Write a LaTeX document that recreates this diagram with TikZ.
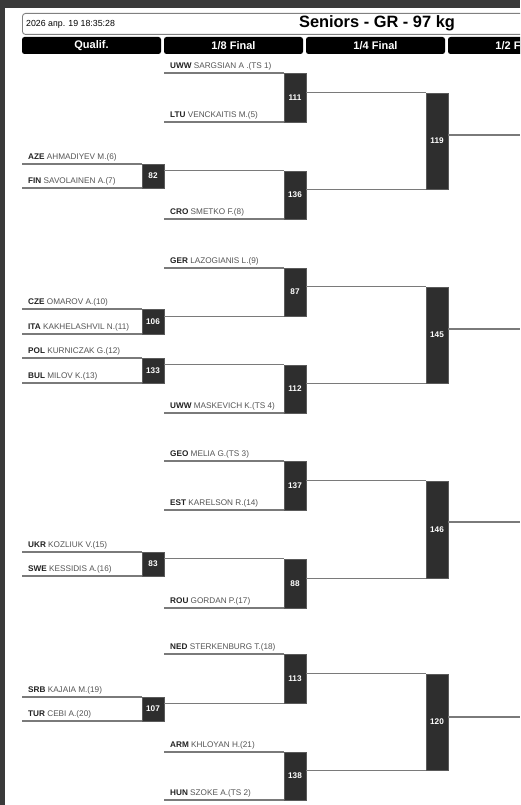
\documentclass[tikz,border=0pt]{standalone}
\usepackage{fontspec}
\setmainfont{Liberation Sans}
\definecolor{lngray}{HTML}{7A7A7A}
\definecolor{boxgray}{HTML}{2E2E2E}
\definecolor{boxedge}{HTML}{5A5A5A}
\definecolor{namegray}{HTML}{555555}
\definecolor{codecol}{HTML}{222222}
\definecolor{framegray}{HTML}{3A3A3A}
\newcommand\matchbox[5]{\node[mbox, minimum height={(#4)-(#3)}] (#1) at (#2,{((#3)+(#4))/2}) {#5};}
\newcommand\comp[6]{%
  \coordinate (#1) at (#2,#3);
  \draw[ln] (#1) -- (#1 -| #4.west);
  \node[lbl] (#1t) at ([shift={(6,-4.5)}]#1) {\textbf{\color{codecol}#5} #6};}
\begin{document}
\begin{tikzpicture}[x=1pt,y=-1pt,
  ln/.style={draw=lngray, line width=1.4pt},
  mbox/.style={fill=boxgray, draw=boxedge, line width=0.6pt, minimum width=22pt, inner sep=0pt,
    text=white, font=\fontsize{8.2}{9}\selectfont\bfseries},
  lbl/.style={anchor=base west, inner sep=0pt, text=namegray, font=\fontsize{8.2}{9}\selectfont},
  colhead/.style={fill=black, rounded corners=2.5pt, minimum width=139pt, minimum height=17pt,
    inner sep=0pt, text=white, font=\fontsize{11}{12}\selectfont\bfseries}]
\useasboundingbox (0,0) rectangle (520,805);
\clip (0,0) rectangle (520,805);
\fill[white] (0,0) rectangle (520,805);
\fill[framegray] (0,0) rectangle (520,8);
\fill[framegray] (0,0) rectangle (5,805);
% header
\node[draw=gray, line width=0.9pt, rounded corners=3pt, minimum width=580pt, minimum height=21pt, inner sep=0pt, anchor=north west] (hdr) at (22,13) {};
\node[anchor=west, inner sep=0pt, font=\fontsize{8.8}{10}\selectfont] (date) at (26,24) {2026 апр. 19 18:35:28};
\node[inner sep=0pt, font=\fontsize{16.4}{18}\selectfont\bfseries] (title) at (377,23.5) {Seniors - GR - 97 kg};
\node[colhead] (hq) at (91.5,45.5) {Qualif.};
\node[colhead] (h8) at (233.5,45.5) {1/8 Final};
\node[colhead] (h4) at (375.5,45.5) {1/4 Final};
\node[colhead] (h2) at (517.5,45.5) {1/2 Final};
% qualif boxes
\matchbox{m82}{153}{164}{188}{82}
\matchbox{m106}{153}{309}{334}{106}
\matchbox{m133}{153}{358}{383}{133}
\matchbox{m83}{153}{552}{576}{83}
\matchbox{m107}{153}{697}{721}{107}
% 1/8 boxes
\matchbox{m111}{295}{73}{122}{111}
\matchbox{m136}{295}{171}{219}{136}
\matchbox{m87}{295}{268}{316}{87}
\matchbox{m112}{295}{365}{413}{112}
\matchbox{m137}{295}{461}{510}{137}
\matchbox{m88}{295}{559}{608}{88}
\matchbox{m113}{295}{654}{703}{113}
\matchbox{m138}{295}{752}{800}{138}
% 1/4 boxes
\matchbox{m119}{437}{93}{189}{119}
\matchbox{m145}{437}{287}{383}{145}
\matchbox{m146}{437}{481}{578}{146}
\matchbox{m120}{437}{674}{770}{120}
% competitors, 1/8 column
\comp{c1}{164}{73}{m111}{UWW}{SARGSIAN A .(TS 1)}
\comp{c5}{164}{122}{m111}{LTU}{VENCKAITIS M.(5)}
\comp{c8}{164}{219}{m136}{CRO}{SMETKO F.(8)}
\comp{c9}{164}{268}{m87}{GER}{LAZOGIANIS L.(9)}
\comp{c4}{164}{413}{m112}{UWW}{MASKEVICH K.(TS 4)}
\comp{c3}{164}{461}{m137}{GEO}{MELIA G.(TS 3)}
\comp{c14}{164}{510}{m137}{EST}{KARELSON R.(14)}
\comp{c17}{164}{608}{m88}{ROU}{GORDAN P.(17)}
\comp{c18}{164}{654}{m113}{NED}{STERKENBURG T.(18)}
\comp{c21}{164}{752}{m138}{ARM}{KHLOYAN H.(21)}
\comp{c2}{164}{800}{m138}{HUN}{SZOKE A.(TS 2)}
% competitors, qualif column
\comp{c6}{22}{164}{m82}{AZE}{AHMADIYEV M.(6)}
\comp{c7}{22}{188}{m82}{FIN}{SAVOLAINEN A.(7)}
\comp{c10}{22}{309}{m106}{CZE}{OMAROV A.(10)}
\comp{c11}{22}{334}{m106}{ITA}{KAKHELASHVIL N.(11)}
\comp{c12}{22}{358}{m133}{POL}{KURNICZAK G.(12)}
\comp{c13}{22}{383}{m133}{BUL}{MILOV K.(13)}
\comp{c15}{22}{552}{m83}{UKR}{KOZLIUK V.(15)}
\comp{c16}{22}{576}{m83}{SWE}{KESSIDIS A.(16)}
\comp{c19}{22}{697}{m107}{SRB}{KAJAIA M.(19)}
\comp{c20}{22}{721}{m107}{TUR}{CEBI A.(20)}
% winners forward
\draw[ln] (m82.east |- m136.north) -- (m136.north west);
\draw[ln] (m106.east |- m87.south) -- (m87.south west);
\draw[ln] (m133.east |- m112.north) -- (m112.north west);
\draw[ln] (m83.east |- m88.north) -- (m88.north west);
\draw[ln] (m107.east |- m113.south) -- (m113.south west);
\draw[ln] (m111.east |- m119.north) -- (m119.north west);
\draw[ln] (m136.east |- m119.south) -- (m119.south west);
\draw[ln] (m87.east |- m145.north) -- (m145.north west);
\draw[ln] (m112.east |- m145.south) -- (m145.south west);
\draw[ln] (m137.east |- m146.north) -- (m146.north west);
\draw[ln] (m88.east |- m146.south) -- (m146.south west);
\draw[ln] (m113.east |- m120.north) -- (m120.north west);
\draw[ln] (m138.east |- m120.south) -- (m120.south west);
\coordinate (r119) at (520,135);
\coordinate (r145) at (520,329);
\coordinate (r146) at (520,522);
\coordinate (r120) at (520,717);
\draw[ln] (m119.east |- r119) -- (r119);
\draw[ln] (m145.east |- r145) -- (r145);
\draw[ln] (m146.east |- r146) -- (r146);
\draw[ln] (m120.east |- r120) -- (r120);
\end{tikzpicture}
\end{document}
